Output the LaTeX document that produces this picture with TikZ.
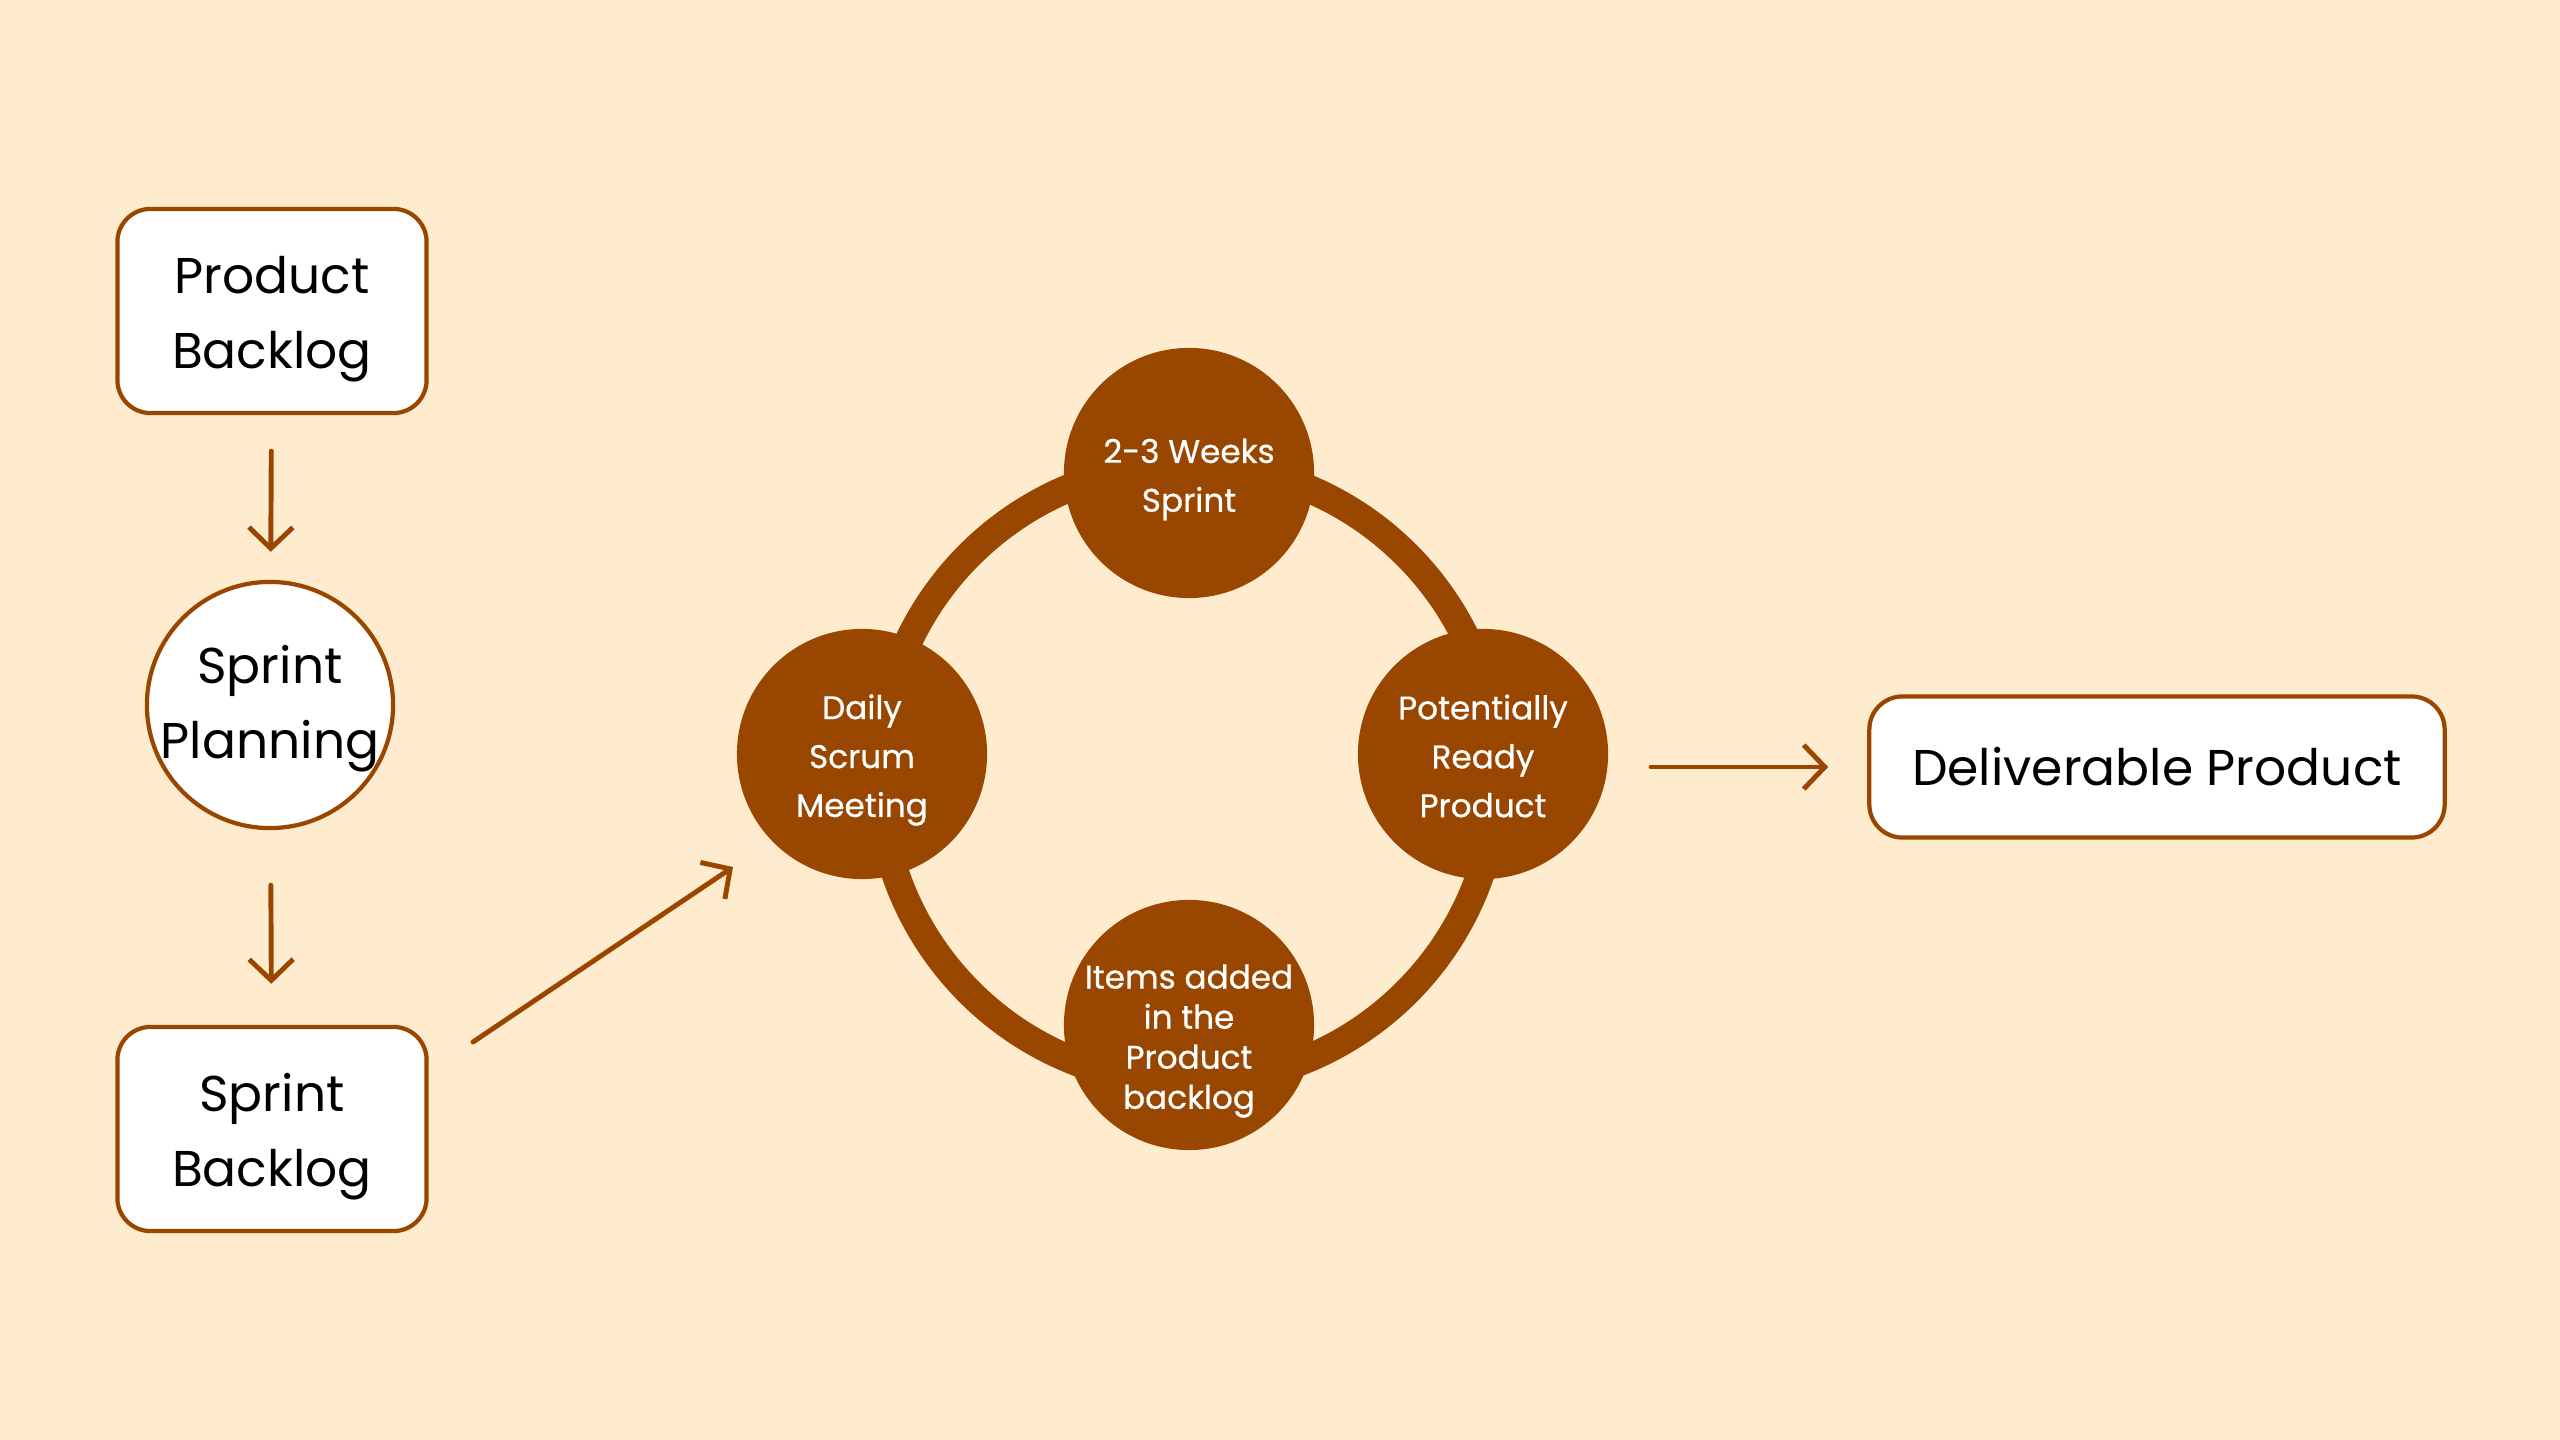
\documentclass[tikz,border=0pt]{standalone}
\usepackage{fontspec}
\setmainfont{Poppins}
\newfontfamily\circfont{Poppins}[FakeBold=0.6]
\usetikzlibrary{arrows.meta}
\definecolor{bg}{HTML}{FFEBCD}
\definecolor{brn}{HTML}{994700}
\begin{document}
\begin{tikzpicture}[x=0.01cm,y=-0.01cm,
  btext/.style={align=center, inner sep=0pt, font=\fontsize{14.3}{21.3}\selectfont},
  wtext/.style={align=center, inner sep=0pt, text=white, font=\circfont\fontsize{9.3}{13.9}\selectfont},
  box/.style={draw=brn, line width=1.2pt, fill=white, rounded corners=0.33cm,
    minimum width=3.09cm, minimum height=2.04cm, inner sep=0pt},
  wcirc/.style={circle, draw=brn, line width=1.2pt, fill=white, minimum size=2.46cm, inner sep=0pt},
  bcirc/.style={circle, fill=brn, minimum size=2.5cm, inner sep=0pt},
  arr/.style={draw=brn, line width=1.4pt, line cap=round,
    -{Straight Barb[length=6pt,width=12.5pt,line width=1.4pt]}}
]
\fill[bg] (0,0) rectangle (2560,1440);
\useasboundingbox (0,0) rectangle (2560,1440);

% left column
\node[box, label={[btext,yshift=-0.08cm]center:{Product\\Backlog}}] (pb) at (272,311) {};
\node[wcirc, label={[btext,yshift=-0.04cm]center:{Sprint\\Planning}}] (sp) at (270,705) {};
\node[box, label={[btext,yshift=-0.08cm]center:{Sprint\\Backlog}}] (sb) at (272,1129) {};

\draw[arr, shorten <=0.36cm, shorten >=0.28cm] (pb) -- (sp);
\draw[arr, shorten <=0.55cm, shorten >=0.41cm] (sp) -- (sb);

% ring
\draw[brn, line width=0.28cm] (1188,773.5) circle [radius=3.09cm];

\node[bcirc, label={[wtext,yshift=-0.065cm]center:{2-3 Weeks\\Sprint}}] (top) at (1189,473) {};
\node[bcirc, label={[wtext,yshift=-0.06cm]center:{Daily\\Scrum\\Meeting}}] (left) at (862,754) {};
\node[bcirc, label={[wtext,yshift=-0.02cm]center:{Potentially\\Ready\\Product}}] (right) at (1483,754) {};
\node[bcirc, label={[wtext,font=\circfont\fontsize{9.3}{11.4}\selectfont,yshift=-0.16cm]center:{Items added\\in the\\Product\\backlog}}] (bot) at (1189,1025) {};

% diagonal arrow
\coordinate (d1) at (473,1042);
\coordinate (d2) at (733,867);
\draw[arr] (d1) -- (d2);

% deliverable
\node[box, minimum width=5.75cm, minimum height=1.41cm, label={[btext]center:{Deliverable Product}}] (dp) at (2157,767) {};
\coordinate (r1) at (1651,767);
\draw[arr, shorten >=0.39cm] (r1) -- (dp.west);
\end{tikzpicture}
\end{document}
